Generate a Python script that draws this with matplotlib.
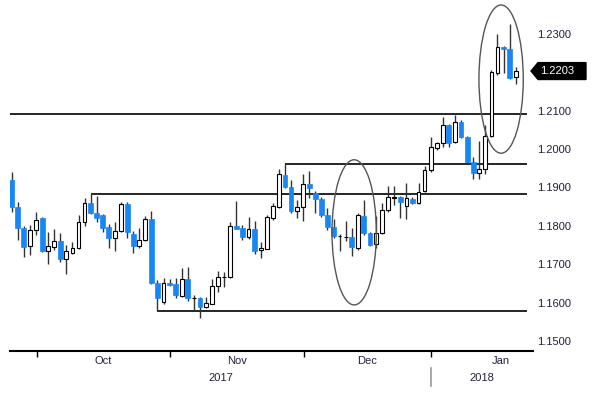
import matplotlib
matplotlib.use("Agg")
import matplotlib.pyplot as plt
import matplotlib.transforms as mtransforms
import numpy as np
import pandas as pd
from matplotlib.patches import Ellipse, Polygon

plt.rcParams.update({
    "font.family": ["Liberation Sans", "DejaVu Sans"],
    "font.size": 8,
})

# EUR/USD daily candles, 25 Sep 2017 - 18 Jan 2018
dates = pd.bdate_range("2017-09-25", periods=84)

opens = [1.1919, 1.1849, 1.1794, 1.1747, 1.1789, 1.1820, 1.1734, 1.1745, 1.1760, 1.1714,
         1.1729, 1.1742, 1.1810, 1.1859, 1.1833, 1.1828, 1.1797, 1.1768, 1.1786, 1.1857,
         1.1779, 1.1747, 1.1763, 1.1818, 1.1651, 1.1602, 1.1651, 1.1648, 1.1617, 1.1661,
         1.1611, 1.1612, 1.1589, 1.1596, 1.1643, 1.1667, 1.1667, 1.1799, 1.1794, 1.1771,
         1.1792, 1.1737, 1.1740, 1.1820, 1.1849, 1.1932, 1.1901, 1.1839, 1.1849, 1.1909,
         1.1885, 1.1870, 1.1828, 1.1797, 1.1773, 1.1771, 1.1771, 1.1742, 1.1826, 1.1781,
         1.1753, 1.1781, 1.1841, 1.1873, 1.1875, 1.1852, 1.1870, 1.1859, 1.1891, 1.1945,
         1.2003, 1.2016, 1.2063, 1.2018, 1.2070, 1.2031, 1.1966, 1.1938, 1.1948, 1.2034,
         1.2198, 1.2266, 1.2260, 1.2188]
highs = [1.1940, 1.1862, 1.1799, 1.1802, 1.1836, 1.1823, 1.1784, 1.1792, 1.1781, 1.1750,
         1.1758, 1.1828, 1.1872, 1.1883, 1.1878, 1.1831, 1.1805, 1.1810, 1.1862, 1.1862,
         1.1786, 1.1794, 1.1826, 1.1839, 1.1659, 1.1664, 1.1661, 1.1664, 1.1690, 1.1693,
         1.1620, 1.1615, 1.1615, 1.1661, 1.1682, 1.1680, 1.1810, 1.1865, 1.1802, 1.1823,
         1.1813, 1.1758, 1.1828, 1.1859, 1.1948, 1.1961, 1.1919, 1.1867, 1.1935, 1.1943,
         1.1891, 1.1875, 1.1846, 1.1818, 1.1779, 1.1813, 1.1794, 1.1833, 1.1867, 1.1784,
         1.1826, 1.1859, 1.1904, 1.1904, 1.1878, 1.1911, 1.1875, 1.1911, 1.1956, 1.2031,
         1.2018, 1.2083, 1.2065, 1.2089, 1.2076, 1.2034, 1.1979, 1.2021, 1.2063, 1.2206,
         1.2299, 1.2268, 1.2326, 1.2214]
lows = [1.1836, 1.1763, 1.1719, 1.1724, 1.1776, 1.1733, 1.1701, 1.1737, 1.1706, 1.1674,
        1.1727, 1.1740, 1.1799, 1.1831, 1.1810, 1.1784, 1.1742, 1.1734, 1.1784, 1.1768,
        1.1729, 1.1742, 1.1760, 1.1648, 1.1578, 1.1596, 1.1643, 1.1612, 1.1615, 1.1604,
        1.1581, 1.1560, 1.1586, 1.1596, 1.1628, 1.1641, 1.1664, 1.1792, 1.1763, 1.1766,
        1.1727, 1.1716, 1.1740, 1.1815, 1.1846, 1.1898, 1.1833, 1.1820, 1.1813, 1.1872,
        1.1833, 1.1823, 1.1789, 1.1768, 1.1734, 1.1760, 1.1721, 1.1737, 1.1776, 1.1747,
        1.1742, 1.1779, 1.1836, 1.1854, 1.1820, 1.1818, 1.1857, 1.1857, 1.1888, 1.1940,
        1.1997, 1.2005, 1.2005, 1.2016, 1.2029, 1.1964, 1.1922, 1.1922, 1.1935, 1.2031,
        1.2193, 1.2198, 1.2182, 1.2169]
closes = [1.1849, 1.1794, 1.1745, 1.1789, 1.1815, 1.1734, 1.1747, 1.1760, 1.1714, 1.1734,
          1.1742, 1.1810, 1.1859, 1.1833, 1.1820, 1.1794, 1.1768, 1.1786, 1.1857, 1.1784,
          1.1747, 1.1763, 1.1818, 1.1651, 1.1612, 1.1651, 1.1646, 1.1620, 1.1661, 1.1612,
          1.1612, 1.1589, 1.1599, 1.1643, 1.1667, 1.1668, 1.1799, 1.1793, 1.1771, 1.1792,
          1.1734, 1.1742, 1.1823, 1.1852, 1.1935, 1.1901, 1.1839, 1.1849, 1.1909, 1.1898,
          1.1870, 1.1828, 1.1797, 1.1773, 1.1774, 1.1772, 1.1745, 1.1828, 1.1781, 1.1750,
          1.1781, 1.1841, 1.1875, 1.1875, 1.1862, 1.1872, 1.1859, 1.1888, 1.1945, 1.2005,
          1.2016, 1.2063, 1.2016, 1.2070, 1.2031, 1.1966, 1.1938, 1.1948, 1.2034, 1.2201,
          1.2266, 1.2260, 1.2185, 1.2203]

# horizontal support / resistance levels and the candle each one starts from
level_values = [1.2091, highs[45], highs[13], lows[24]]
level_starts = [-1, 45, 13, 24]

# circled zones: (centre index, centre price, width in days, height in price)
circles = [(56.4, 1.1783, 7.3, 0.0378), (80.6, 1.2182, 7.3, 0.0386)]

# 1.2200 is hidden behind the last-price tag
y_ticks = [1.15, 1.16, 1.17, 1.18, 1.19, 1.20, 1.21, 1.23]

BLUE = "#1787f5"
TEXT = "#20203a"

fig = plt.figure(figsize=(6.0, 3.96), dpi=100)
ax = fig.add_axes([0.016, 0.1136, 0.8718, 0.8864])

x = np.arange(len(dates))
o = np.array(opens)
h = np.array(highs)
l = np.array(lows)
c = np.array(closes)
up = c >= o

# wicks then bodies
ax.vlines(x, l, h, color="#333333", lw=1.0, zorder=2)
ax.bar(x[~up], (o - c)[~up], bottom=c[~up], width=0.8,
       color=BLUE, edgecolor=BLUE, lw=0.5, zorder=3)
ax.bar(x[up], np.maximum((c - o)[up], 0.00003), bottom=o[up], width=0.62,
       facecolor="white", edgecolor="black", lw=0.8, zorder=3)

x_min, x_max = -0.35, 85.8
line_end = 84.9
for val, start in zip(level_values, level_starts):
    ax.hlines(val, max(start, x_min), line_end, color="black", lw=1.2, zorder=1)

for cx, cy, w, hh in circles:
    ax.add_patch(Ellipse((cx, cy), w, hh, fill=False, edgecolor="#555555",
                         lw=1.0, zorder=4))

ax.set_xlim(x_min, x_max)
ax.set_ylim(1.1474, 1.2388)

# month boundaries from the dates
month_start = np.flatnonzero(np.r_[True, dates.month[1:] != dates.month[:-1]])[1:]
bounds = month_start - 0.9
ax.set_xticks(bounds)
ax.set_xticklabels([])
ax.tick_params(axis="x", length=4, width=1.0, color="black")

xt = mtransforms.blended_transform_factory(ax.transData, ax.transAxes)
month_names = ["Oct", "Nov", "Dec", "Jan"]
month_ends = list(bounds[1:]) + [bounds[-1] + 23]
for name, b0, b1 in zip(month_names, bounds, month_ends):
    ax.text((b0 + b1) / 2, -0.028, name, transform=xt, ha="center", va="center",
            color=TEXT, fontsize=8)

year_split = bounds[-1]
ax.text((x_min + year_split) / 2, -0.077, "2017", transform=xt, ha="center",
        va="center", color=TEXT, fontsize=8)
ax.text((year_split + x_max) / 2, -0.077, "2018", transform=xt, ha="center",
        va="center", color=TEXT, fontsize=8)
ax.plot([year_split, year_split], [-0.048, -0.10], transform=xt, color="#999999",
        lw=1.2, clip_on=False)

ax.yaxis.tick_right()
ax.set_yticks(y_ticks)
ax.set_yticklabels([f"{v:.4f}" for v in y_ticks])
ax.tick_params(axis="y", length=0, pad=3.2, labelcolor=TEXT, labelsize=8)

for side in ["top", "right", "left"]:
    ax.spines[side].set_visible(False)
ax.spines["bottom"].set_linewidth(1.5)

# last price tag
last = closes[-1]
yt = mtransforms.blended_transform_factory(ax.transAxes, ax.transData)
dh = 0.0022
tag = Polygon([(0.9968, last), (1.0102, last + dh), (1.1019, last + dh),
               (1.1019, last - dh), (1.0102, last - dh)], closed=True,
              transform=yt, facecolor="black", edgecolor="black", clip_on=False)
ax.add_patch(tag)
ax.text(1.0135, last, f"{last:.4f}", transform=yt, ha="left", va="center",
        color="white", fontsize=8)

fig.savefig("out.png", dpi=100)
